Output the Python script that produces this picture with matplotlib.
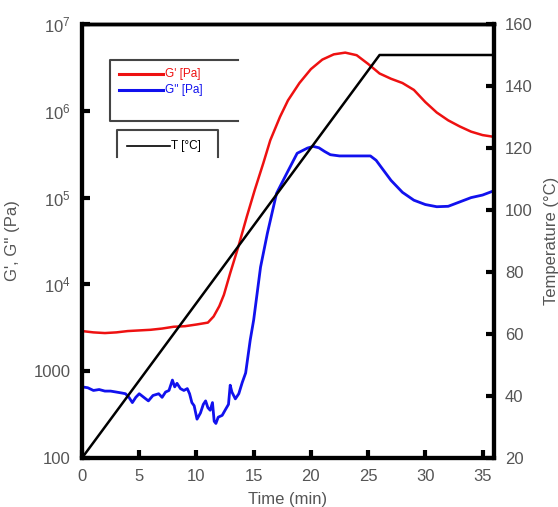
import matplotlib
matplotlib.use('Agg')
import matplotlib.pyplot as plt
from matplotlib.lines import Line2D
from matplotlib.ticker import NullLocator

plt.rcParams['font.family'] = ['Liberation Sans', 'DejaVu Sans']
plt.rcParams['mathtext.fontset'] = 'custom'
plt.rcParams['mathtext.rm'] = 'Liberation Sans'
plt.rcParams['mathtext.it'] = 'Liberation Sans:italic'

# ---- data ----
t_gp = [0, 1, 2, 3, 4, 5, 6, 7, 8, 9, 10, 11, 11.5, 12, 12.4, 12.95, 13.65, 14.4, 15.1, 15.85,
        16.45, 17.3, 18, 19, 20, 21, 22, 23, 24, 25, 26, 27, 28, 29, 30, 31, 32, 33, 34, 35, 36]
gp = [2900, 2800, 2750, 2800, 2900, 2950, 3000, 3100, 3250, 3300, 3450, 3630, 4270, 5620, 7590,
      13500, 26900, 60300, 123000, 251000, 457000, 851000, 1.32e6, 2.09e6, 3.02e6, 3.89e6,
      4.47e6, 4.68e6, 4.37e6, 3.47e6, 2.69e6, 2.34e6, 2.09e6, 1.74e6, 1.26e6, 955000,
      776000, 661000, 575000, 525000, 501000]

t_gpp = [0, 0.5, 1, 1.5, 2, 2.5, 3, 3.5, 3.8, 4.1, 4.4, 4.7, 5.0, 5.4, 5.8, 6.2, 6.7, 7.0,
         7.3, 7.6, 7.9, 8.1, 8.3, 8.6, 8.9, 9.2, 9.4, 9.6, 9.8, 10.05, 10.35, 10.6, 10.8,
         11.0, 11.2, 11.4, 11.55, 11.7, 11.9, 12.25, 12.5, 12.8, 12.95, 13.1, 13.4, 13.7,
         14.0, 14.3, 14.7, 15.0, 15.6, 16.2, 17.0, 17.9, 18.8, 19.7, 20.2,
         20.7, 21.2, 21.7, 22.5, 24.0, 25.2, 25.7, 26.2, 27.0, 28.0, 29.0, 30.0, 31.0, 32.0,
         33.0, 34.0, 35.0, 36.0]
gpp = [660, 645, 600, 615, 590, 590, 575, 560, 550, 500, 435, 500, 550, 500, 455, 525, 550,
       500, 575, 600, 790, 660, 725, 630, 600, 630, 550, 435, 400, 280, 330, 415, 455, 380,
       355, 435, 265, 250, 295, 310, 355, 415, 690, 575, 480, 550, 740, 955, 2290, 3890,
       15800, 38900, 112000, 191000, 324000, 372000, 389000,
       375000, 340000, 312000, 302000, 302000, 302000, 269000, 219000, 158000, 115000, 93300,
       83200, 78500, 79400, 89100, 100000, 107000, 120000]

t_temp = [0, 26, 36]
temp = [20, 150, 150]

x_ticks = [0, 5, 10, 15, 20, 25, 30, 35]
g_ticks = [1e2, 1e3, 1e4, 1e5, 1e6, 1e7]
g_tick_labels = ['100', '1000', '$10^4$', '$10^5$', '$10^6$', '$10^7$']
t_ticks = [20, 40, 60, 80, 100, 120, 140, 160]

W, H = 558, 507
fig = plt.figure(figsize=(W / 100, H / 100), dpi=100)
ax = fig.add_axes([82 / W, 49 / H, 412 / W, 434 / H])
ax.set_yscale('log')
ax.set_xlim(0, 36)
ax.set_ylim(100, 1e7)

ax.plot(t_gp, gp, color='#ee1111', lw=1.8)
ax.plot(t_gpp, gpp, color='#1111ee', lw=2.0)

ax2 = ax.twinx()
ax2.set_ylim(20, 160)
ax2.plot(t_temp, temp, color='black', lw=1.8)

tc = '#555555'
ax.set_xticks(x_ticks)
ax.set_yticks(g_ticks)
ax.set_yticklabels(g_tick_labels)
ax.yaxis.set_minor_locator(NullLocator())
ax2.set_yticks(t_ticks)
for a in (ax, ax2):
    a.tick_params(direction='in', length=6, width=3, labelsize=12, labelcolor=tc, pad=8)
    for s in a.spines.values():
        s.set_linewidth(3)
    a.spines['top'].set_linewidth(2.5)
ax.tick_params(top=False, right=False)

ax.set_xlabel('Time (min)', fontsize=12, color=tc, labelpad=6)
ax.set_ylabel("G', G'' (Pa)", fontsize=12, color=tc, labelpad=10)
ax2.set_ylabel('Temperature (°C)', fontsize=12, color=tc, labelpad=8)


def fx(x):
    return x / W


def fy(y):
    return 1 - y / H


lc = '#444444'
# legend box 1 (open on the right)
fig.add_artist(Line2D([fx(238), fx(110), fx(110), fx(238)], [fy(60), fy(60), fy(120.5), fy(120.5)],
                      color=lc, lw=1.5))
fig.add_artist(Line2D([fx(119), fx(163)], [fy(74), fy(74)], color='#ee1111', lw=2.2))
fig.add_artist(Line2D([fx(119), fx(163)], [fy(90), fy(90)], color='#1111ee', lw=2.2))
fig.text(fx(165), fy(74), "G' [Pa]", color='#ee1111', fontsize=8.5, va='center', ha='left')
fig.text(fx(165), fy(90), "G'' [Pa]", color='#1111ee', fontsize=8.5, va='center', ha='left')
# legend box 2 (open at the bottom)
fig.add_artist(Line2D([fx(117), fx(117), fx(218), fx(218)], [fy(157), fy(130), fy(130), fy(157)],
                      color=lc, lw=1.5))
fig.add_artist(Line2D([fx(127), fx(170)], [fy(145.5), fy(145.5)], color='black', lw=1.2))
fig.text(fx(171), fy(145.5), 'T [°C]', color='black', fontsize=8.5, va='center', ha='left')

fig.savefig('out.png', dpi=100)
